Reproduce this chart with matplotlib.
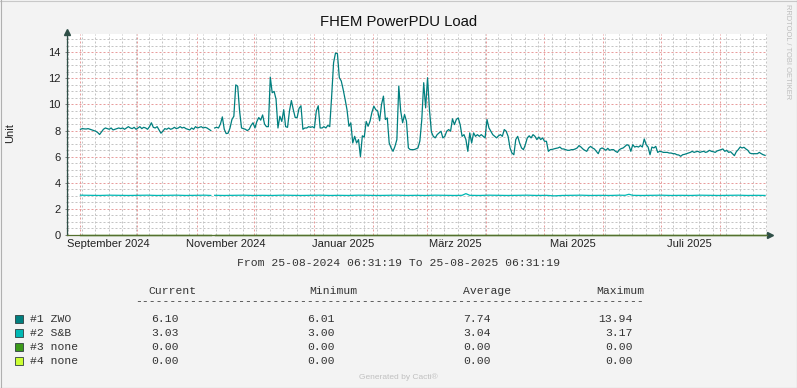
import matplotlib
matplotlib.use('Agg')
import matplotlib.pyplot as plt
import matplotlib.dates as mdates
from matplotlib.lines import Line2D
from matplotlib.patches import Rectangle
from matplotlib.ticker import MultipleLocator, NullFormatter
from datetime import datetime
import numpy as np

plt.rcParams['lines.scale_dashes'] = False

# time range of the graph
start = datetime(2024, 8, 25, 6, 31, 19)
span_days = 365

# ZWO load, one value per day starting at day 7 (nan = no data)
zwo_first_day = 7
zwo = [
    8.10, 8.15, 8.13, 8.12, 8.15, 8.10, 8.05, 8.00, 7.95, 7.85,
    7.70, 7.90, 8.10, 8.20, 8.15, 8.10, 8.20, 8.05, 8.10, 8.15,
    8.20, 8.15, 8.20, 8.10, 8.20, 8.30, 8.20, 8.15, 8.25, 8.10,
    8.20, 8.30, 8.15, 8.25, 8.20, 8.10, 8.30, 8.60, 8.25, 8.20,
    8.30, 8.05, 7.80, 7.95, 8.15, 8.10, 8.20, 8.10, 8.15, 8.25,
    8.15, 8.20, 8.30, 8.20, 8.25, 8.15, 8.10, 8.05, 8.20, 8.10,
    8.30, 8.20, 8.25, 8.30, 8.20, 8.25, 8.20, 8.10, 8.00, np.nan,
    8.20, 8.25, 8.20, 8.50, 9.05, 8.10, 7.77, 7.80, 8.20, 8.85,
    9.10, 11.50, 11.40, 9.50, 8.20, 8.15, 8.10, 8.00, 8.10, 8.40,
    8.60, 8.20, 8.70, 9.00, 8.80, 9.20, 8.50, 8.30, 8.30, 12.10,
    10.90, 11.00, 10.40, 8.20, 9.10, 8.70, 9.60, 8.30, 8.25, 9.50,
    10.30, 9.60, 9.00, 9.00, 9.70, 9.90, 8.10, 8.20, 8.20, 8.30,
    8.25, 8.30, 8.20, 9.50, 9.90, 8.20, 8.20, 8.30, 8.20, 8.40,
    8.30, 10.64, 13.20, 13.94, 13.90, 12.05, 11.80, 11.15, 10.40, 9.60,
    8.33, 8.59, 7.05, 7.56, 7.05, 7.31, 6.01, 7.60, 7.50, 8.70,
    8.33, 8.72, 9.40, 9.87, 9.60, 9.50, 8.75, 10.00, 10.64, 8.85,
    8.97, 7.05, 6.67, 6.41, 6.79, 7.31, 11.41, 9.50, 8.60, 9.23,
    8.72, 6.67, 6.54, 6.54, 6.54, 6.60, 6.67, 7.20, 8.85, 11.67,
    9.74, 12.05, 9.60, 7.90, 7.56, 7.44, 7.69, 7.82, 7.95, 7.44,
    7.56, 7.95, 8.08, 7.95, 8.90, 8.46, 8.85, 8.97, 8.46, 7.56,
    7.69, 7.31, 6.41, 7.82, 7.05, 7.82, 7.56, 7.69, 7.56, 7.69,
    7.56, 7.44, 8.85, 8.21, 7.95, 7.69, 7.56, 7.44, 7.60, 7.69,
    7.56, 8.08, 7.95, 7.56, 6.67, 6.28, 6.15, 7.31, 7.56, 7.05,
    6.67, 6.54, 6.92, 7.44, 7.60, 7.44, 7.69, 7.56, 7.31, 7.51,
    7.31, 7.44, 7.18, 7.18, 6.41, 6.54, 6.56, 6.60, 6.64, 6.67,
    6.74, 6.60, 6.59, 6.54, 6.49, 6.49, 6.54, 6.54, 6.59, 6.67,
    6.85, 6.74, 6.59, 6.49, 6.41, 6.67, 6.79, 6.67, 6.59, 6.41,
    6.23, 6.59, 6.67, 6.59, 6.49, 6.64, 6.49, 6.54, 6.54, 6.41,
    6.33, 6.54, 6.62, 6.67, 6.79, 6.92, 6.85, 6.41, 6.92, 6.74,
    6.79, 6.74, 6.85, 6.74, 7.36, 6.92, 6.74, 6.15, 6.74, 6.67,
    6.79, 6.33, 6.41, 6.38, 6.33, 6.33, 6.33, 6.28, 6.28, 6.23,
    6.23, 6.15, 6.13, 6.03, 6.15, 6.18, 6.23, 6.28, 6.33, 6.41,
    6.33, 6.38, 6.41, 6.33, 6.38, 6.41, 6.33, 6.38, 6.49, 6.41,
    6.38, 6.33, 6.44, 6.49, 6.54, 6.59, 6.41, 6.49, 6.33, 6.38,
    6.23, 6.08, 6.38, 6.54, 6.74, 6.67, 6.72, 6.59, 6.49, 6.28,
    6.23, 6.23, 6.23, 6.23, 6.33, 6.23, 6.15, 6.10,
]

# S&B load, sampled days
sb_day = [7, 12, 17, 22, 27, 32, 37, 42, 47, 52, 57, 62, 67, 72, 75, 76, 77,
          82, 87, 92, 97, 102, 107, 112, 117, 122, 127, 132, 137, 142, 147,
          152, 157, 162, 167, 172, 177, 182, 187, 192, 197, 202, 206, 208,
          210, 215, 220, 225, 230, 235, 240, 245, 250, 254, 258, 263, 268,
          273, 278, 283, 288, 291, 293, 295, 300, 305, 310, 315, 320, 325,
          330, 335, 340, 345, 350, 355, 360, 364]
sb = [3.05, 3.04, 3.03, 3.05, 3.04, 3.03, 3.04, 3.05, 3.03, 3.04, 3.05, 3.03,
      3.04, 3.05, 3.03, np.nan, 3.04, 3.03, 3.04, 3.05, 3.03, 3.04, 3.03,
      3.05, 3.04, 3.03, 3.04, 3.05, 3.03, 3.04, 3.03, 3.05, 3.04, 3.03, 3.04,
      3.05, 3.03, 3.04, 3.03, 3.05, 3.04, 3.03, 3.04, 3.17, 3.04, 3.03, 3.05,
      3.04, 3.03, 3.04, 3.05, 3.03, 3.04, 3.00, 3.03, 3.04, 3.05, 3.03, 3.04,
      3.03, 3.05, 3.04, 3.12, 3.04, 3.03, 3.04, 3.05, 3.03, 3.04, 3.03, 3.05,
      3.04, 3.03, 3.04, 3.05, 3.03, 3.04, 3.03]

# unused outlets, all zero
none_day = [7, 75, 76, 77, 364]
none_val = [0, 0, np.nan, 0, 0]

label_dates = [datetime(2024, 9, 16), datetime(2024, 11, 16), datetime(2025, 1, 16),
               datetime(2025, 3, 16), datetime(2025, 5, 16), datetime(2025, 7, 16)]
label_text = ['September 2024', 'November 2024', 'Januar 2025',
              'März 2025', 'Mai 2025', 'Juli 2025']

legend_names = ['#1 ZWO', '#2 S&B', '#3 none', '#4 none']
legend_colors = ['#007F7F', '#00B8B4', '#3C9A1A', '#CCFF33']
stat_current = ['6.10', '3.03', '0.00', '0.00']
stat_minimum = ['6.01', '3.00', '0.00', '0.00']
stat_average = ['7.74', '3.04', '0.00', '0.00']
stat_maximum = ['13.94', '3.17', '0.00', '0.00']

W, H = 797, 388
sans = 'Liberation Sans'
mono = 'Liberation Mono'

fig = plt.figure(figsize=(W / 100, H / 100), dpi=100, facecolor='#F3F3F3')
ax = fig.add_axes([67 / W, 153 / H, 700 / W, 201 / H])
ax.set_facecolor('#FFFFFF')

x0 = mdates.date2num(start)
zwo_x = x0 + zwo_first_day + np.arange(len(zwo))
sb_x = x0 + np.array(sb_day)
none_x = x0 + np.array(none_day)

ax.plot(zwo_x, zwo, color=legend_colors[0], lw=0.9, zorder=4)
ax.plot(sb_x, sb, color=legend_colors[1], lw=0.9, zorder=3)
ax.plot(none_x, none_val, color=legend_colors[2], lw=0.9, zorder=5, clip_on=False)
ax.plot(none_x, none_val, color='#55702F', lw=0.9, zorder=5, clip_on=False)

ax.set_xlim(x0, x0 + span_days)
ax.set_ylim(0, 15.4)

# grid: months red, weeks gray, 2 units red, 0.5 units gray
ax.xaxis.set_major_locator(mdates.MonthLocator())
ax.xaxis.set_minor_locator(mdates.WeekdayLocator(byweekday=mdates.MO))
ax.xaxis.set_major_formatter(NullFormatter())
ax.xaxis.set_minor_formatter(NullFormatter())
ax.yaxis.set_major_locator(MultipleLocator(2))
ax.yaxis.set_minor_locator(MultipleLocator(0.5))
dots = (0, (1.44, 1.44))
ax.grid(which='minor', color='#C4C4C4', lw=0.72, ls=dots)
ax.grid(which='major', color='#E89C9C', lw=0.72, ls=dots)
ax.set_axisbelow(True)

ax.tick_params(which='major', length=3, width=0.7, direction='inout', color='#808080',
               labelsize=8, labelcolor='#222222', pad=3)
ax.tick_params(which='minor', length=2, width=0.6, direction='inout', color='#A0A0A0')
ax.tick_params(axis='x', which='both', length=0)
for lab in ax.get_yticklabels():
    lab.set_fontfamily(sans)

for sp in ['top', 'right']:
    ax.spines[sp].set_visible(False)
ax.spines['left'].set_color('#2F4F47')
ax.spines['left'].set_linewidth(0.9)
ax.spines['bottom'].set_color('#55702F')
ax.spines['bottom'].set_linewidth(0.9)
ax.plot([0], [1.012], marker='^', ms=4.5, color='#2F4F47', transform=ax.transAxes, clip_on=False)
ax.plot([1.005], [0], marker='>', ms=4.5, color='#2F4F47', transform=ax.transAxes, clip_on=False)

for d, t in zip(label_dates, label_text):
    ax.text(mdates.date2num(d), -0.045, t, transform=ax.get_xaxis_transform(),
            ha='center', va='center', fontsize=8, family=sans, color='#222222')


def fy(py):
    return 1 - py / H


fig.text(398.5 / W, fy(22), 'FHEM PowerPDU Load', ha='center', va='center',
         fontsize=10.7, family=sans, color='#111111')
fig.text(10 / W, fy(133), 'Unit', rotation=90, ha='center', va='center',
         fontsize=8, family=sans, color='#222222')
fig.text(788 / W, fy(4), 'RRDTOOL / TOBI OETIKER', rotation=270, ha='center', va='top',
         fontsize=5.4, family=sans, color='#BDBDBD')

txt = '#333333'
fig.text(398.5 / W, fy(263), 'From 25-08-2024 06:31:19 To 25-08-2025 06:31:19',
         ha='center', va='center', fontsize=8.2, family=mono, color=txt)
for name, xl in zip(['Current', 'Minimum', 'Average', 'Maximum'], [148, 309, 463, 596]):
    fig.text(xl / W, fy(290.5), name, ha='left', va='center', fontsize=8.2, family=mono, color=txt)
fig.text(135 / W, fy(301), '-' * 74, ha='left', va='center', fontsize=8.2, family=mono, color=txt)

row_y = [319, 333, 347, 361]
for i in range(4):
    y = row_y[i]
    fig.add_artist(Rectangle((15 / W, fy(y + 4)), 8 / W, 8 / H, transform=fig.transFigure,
                             fc=legend_colors[i], ec='#2F3F3F', lw=0.6))
    fig.text(30 / W, fy(y), legend_names[i], ha='left', va='center', fontsize=8.2,
             family=mono, color=txt)
    for vals, xr in zip([stat_current, stat_minimum, stat_average, stat_maximum],
                        [179, 335, 491, 633]):
        fig.text(xr / W, fy(y), vals[i], ha='right', va='center', fontsize=8.2,
                 family=mono, color=txt)

fig.text(398.5 / W, fy(377), 'Generated by Cacti®', ha='center', va='center',
         fontsize=6, family=sans, color='#C0C0C0')

# image border
fig.add_artist(Line2D([0, 1], [1 - 0.5 / H, 1 - 0.5 / H], transform=fig.transFigure, color='#C8C8C8', lw=0.8))
fig.add_artist(Line2D([0.5 / W, 0.5 / W], [0, 1], transform=fig.transFigure, color='#B0B0B0', lw=0.8))
fig.add_artist(Line2D([1 - 0.5 / W, 1 - 0.5 / W], [0, 1], transform=fig.transFigure, color='#8C8C8C', lw=0.8))
fig.add_artist(Line2D([0, 1], [0.5 / H, 0.5 / H], transform=fig.transFigure, color='#8C8C8C', lw=0.8))

fig.savefig('out.png', dpi=100, facecolor=fig.get_facecolor())
